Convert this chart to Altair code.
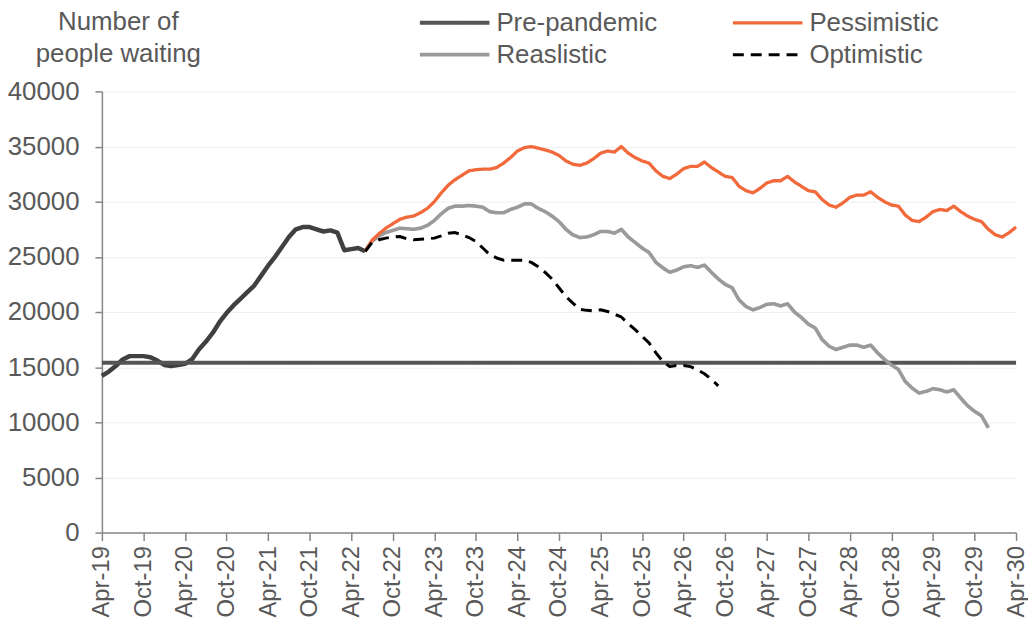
import json
import altair as alt
import pandas as pd

# Monthly values, month 0 = Apr-19 ... month 132 = Apr-30
actual = [14200, 14600, 15100, 15700, 16000, 16000, 16000, 15900, 15600, 15200,
          15100, 15200, 15300, 15700, 16600, 17300, 18100, 19100, 19900, 20600,
          21200, 21800, 22400, 23300, 24200, 25000, 25900, 26800, 27500, 27700,
          27700, 27500, 27300, 27400, 27200, 25600, 25700, 25800, 25500]

# projections start at month 38 (Jun-22)
proj_start = 38
pessimistic = [25500, 26500, 27100, 27600, 28000, 28400, 28600, 28700, 29000, 29400,
               30000, 30800, 31500, 32000, 32400, 32800, 32900, 32950, 32950, 33100,
               33500, 34000, 34600, 34900, 35000, 34850, 34700, 34500, 34200, 33700,
               33400, 33300, 33500, 33900, 34400, 34600, 34500, 35000, 34400, 34000,
               33700, 33500, 32800, 32300, 32100, 32500, 33000, 33200, 33200, 33600,
               33100, 32700, 32300, 32200, 31400, 31000, 30800, 31200, 31700, 31900,
               31900, 32300, 31800, 31400, 31000, 30900, 30200, 29700, 29500, 29900,
               30400, 30600, 30600, 30900, 30400, 30000, 29700, 29600, 28800, 28300,
               28200, 28600, 29100, 29300, 29200, 29600, 29100, 28700, 28400, 28200,
               27500, 27000, 26800, 27200, 27700]
realistic = [25500, 26400, 26900, 27200, 27400, 27600, 27550, 27500, 27600, 27850,
             28300, 28900, 29400, 29600, 29600, 29650, 29600, 29500, 29100, 29000,
             29000, 29300, 29500, 29800, 29800, 29400, 29100, 28700, 28200, 27500,
             27000, 26750, 26800, 27000, 27300, 27300, 27150, 27500, 26800, 26300,
             25800, 25400, 24500, 24000, 23600, 23800, 24100, 24200, 24050, 24250,
             23600, 23000, 22500, 22200, 21100, 20500, 20200, 20400, 20700, 20750,
             20550, 20750, 20000, 19500, 18900, 18550, 17500, 16900, 16600, 16800,
             17000, 17000, 16800, 17000, 16300, 15700, 15200, 14800, 13700, 13100,
             12650, 12800, 13050, 12950, 12750, 12950, 12200, 11500, 11000, 10600,
             9500]
optimistic = [25500, 26300, 26550, 26700, 26800, 26850, 26650, 26550, 26600, 26650,
              26700, 26900, 27150, 27200, 27000, 26750, 26400, 25800, 25200, 24900,
              24700, 24700, 24700, 24700, 24500, 24100, 23600, 23000, 22200, 21400,
              20800, 20250, 20150, 20100, 20200, 20050, 19800, 19550, 18950, 18400,
              17800, 17200, 16300, 15500, 15050, 15150, 15150, 15050, 14750, 14400,
              13900, 13300]
pre_pandemic = 15400
pre_pandemic_span = [0, 132]

# legend order (column-major in a 2-column legend)
series_names = ["Pre-pandemic", "Reaslistic", "Pessimistic", "Optimistic"]
series_colors = ["#555555", "#9A9A9A", "#F26A3C", "#000000"]
series_dash = [[1, 0], [1, 0], [1, 0], [11, 7]]
series_width = [4, 3, 3, 3]

tick_labels = ["Apr-19", "Oct-19", "Apr-20", "Oct-20", "Apr-21", "Oct-21", "Apr-22",
               "Oct-22", "Apr-23", "Oct-23", "Apr-24", "Oct-24", "Apr-25", "Oct-25",
               "Apr-26", "Oct-26", "Apr-27", "Oct-27", "Apr-28", "Oct-28", "Apr-29",
               "Oct-29", "Apr-30"]
tick_values = [i * 6 for i in range(len(tick_labels))]
y_ticks = [0, 5000, 10000, 15000, 20000, 25000, 30000, 35000, 40000]

FONT = "Liberation Sans"
TXT = "#595959"

hist_df = pd.DataFrame({"m": list(range(len(actual))), "v": actual})

rows = []
for m in pre_pandemic_span:
    rows.append({"m": m, "v": pre_pandemic, "series": "Pre-pandemic"})
for name, vals in [("Reaslistic", realistic), ("Pessimistic", pessimistic),
                   ("Optimistic", optimistic)]:
    for i, v in enumerate(vals):
        rows.append({"m": proj_start + i, "v": v, "series": name})
proj_df = pd.DataFrame(rows)

label_expr = json.dumps(tick_labels) + "[round(datum.value / 6)]"

x_enc = alt.X(
    "m:Q",
    scale=alt.Scale(domain=[0, 132], nice=False, zero=False),
    axis=alt.Axis(values=tick_values, labelExpr=label_expr, labelAngle=270,
                  grid=False, tickSize=8, tickColor="#868686", domainColor="#868686",
                  domainWidth=1.5, tickWidth=1.5,
                  labelFontSize=24, labelColor=TXT, labelFont=FONT, labelPadding=5,
                  title=None),
)
y_enc = alt.Y(
    "v:Q",
    scale=alt.Scale(domain=[0, 40000], nice=False),
    axis=alt.Axis(values=y_ticks, format="d", grid=True, gridColor="#EFEFEF",
                  gridWidth=1, tickSize=7, tickColor="#868686", domainColor="#868686",
                  domainWidth=1.5, tickWidth=1.5,
                  labelFontSize=26, labelColor=TXT, labelFont=FONT, labelPadding=16,
                  title=["Number of", "people waiting"], titleAngle=0, titleX=16,
                  titleY=-62, titleAlign="center", titleBaseline="alphabetic",
                  titleFontSize=26, titleFontWeight="normal", titleColor=TXT,
                  titleFont=FONT, titleLineHeight=32),
)

hist = alt.Chart(hist_df).mark_line(color="#404040", strokeWidth=4.5,
                                    strokeJoin="round").encode(x=x_enc, y=y_enc)

legend = alt.Legend(orient="none", legendX=317, legendY=-82, columns=2,
                    direction="vertical", title=None, symbolType="M-1,0H6",
                    symbolSize=400, symbolStrokeWidth=4, labelFontSize=26,
                    labelFont=FONT, labelColor=TXT, columnPadding=69, rowPadding=6,
                    labelOffset=54, padding=0, labelLimit=400)

proj = alt.Chart(proj_df).mark_line(strokeJoin="round").encode(
    x=x_enc,
    y=y_enc,
    color=alt.Color("series:N", scale=alt.Scale(domain=series_names, range=series_colors),
                    legend=legend),
    strokeDash=alt.StrokeDash("series:N",
                              scale=alt.Scale(domain=series_names, range=series_dash),
                              legend=legend),
    strokeWidth=alt.StrokeWidth("series:N",
                                scale=alt.Scale(domain=series_names, range=series_width),
                                legend=None),
    order=alt.Order("m:Q"),
)

chart = alt.layer(hist, proj).properties(
    width=920, height=444,
    autosize=alt.AutoSizeParams(type="none"),
    padding={"left": 94.5, "top": 82, "right": 12, "bottom": 86},
    background="white",
).configure_view(stroke=None)

chart.save("out.html", embed_options={"renderer": "svg", "actions": False})
